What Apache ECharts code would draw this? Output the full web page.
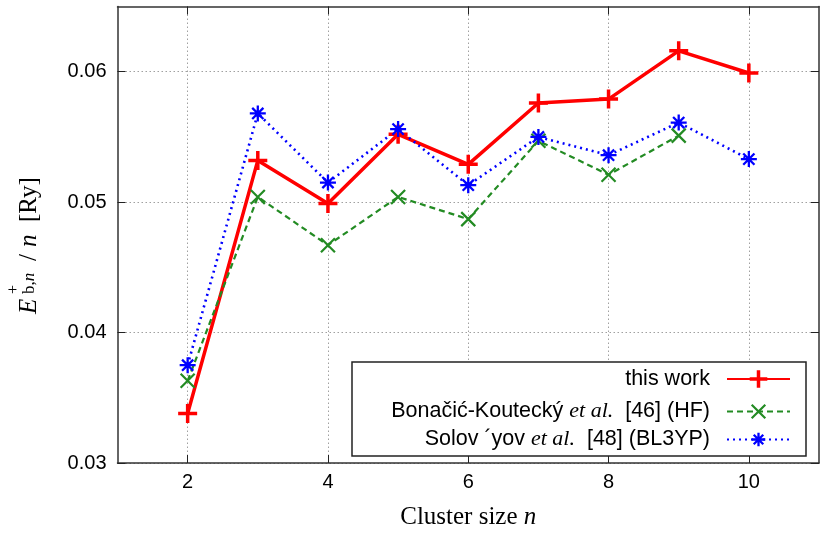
<!DOCTYPE html>
<html><head><meta charset="utf-8">
<script src="https://cdn.jsdelivr.net/npm/echarts@6/dist/echarts.min.js"></script>
<style>html,body{margin:0;padding:0;background:#fff}#c{width:831px;height:536px}</style>
</head><body><div id="c"></div>
<script>
const clusterSizes = [2, 3, 4, 5, 6, 7, 8, 9, 10];
const thisWork = [0.0338, 0.0532, 0.0499, 0.0552, 0.0529, 0.0576, 0.0579, 0.0616, 0.0599];
const hfSizes = [2, 3, 4, 5, 6, 7, 8, 9];
const hfValues = [0.0363, 0.0504, 0.0467, 0.0504, 0.0487, 0.0547, 0.0521, 0.0551];
const bl3ypValues = [0.0375, 0.0568, 0.0515, 0.0556, 0.0513, 0.0550, 0.0536, 0.0561, 0.0533];
const xTicks = [2, 4, 6, 8, 10];
const yTicks = [0.03, 0.04, 0.05, 0.06];
const seriesNames = ['this work', 'Bonačić-Koutecký et al. [46] (HF)', 'Solov´yov et al. [48] (BL3YP)'];
const legendLabels = {
  'this work': '{s|this work}',
  'Bonačić-Koutecký et al. [46] (HF)': '{s|Bonačić-Koutecký }{i|et al.}{s|  [46] (HF)}',
  'Solov´yov et al. [48] (BL3YP)': '{s|Solov ´yov }{i|et al.}{s|  [48] (BL3YP)}'
};

const SANS = '"Liberation Sans", Arial, sans-serif';
const SERIF = '"Liberation Serif", "Times New Roman", serif';
const plusSym = 'path://M0,-10 L0,10 M-10,0 L10,0';
const crossSym = 'path://M-10,-10 L10,10 M-10,10 L10,-10';
const starSym = 'path://M0,-10 L0,10 M-10,0 L10,0 M-7,-7 L7,7 M-7,7 L7,-7';

const legendRich = {
  s: { fontFamily: SANS, fontSize: 21.5, color: '#000' },
  i: { fontFamily: SERIF, fontStyle: 'italic', fontSize: 22, color: '#000' }
};
function makeLegend(name, centerY, itemHeight, bw) {
  return {
    data: [name], orient: 'vertical', align: 'right', right: 40,
    top: centerY - itemHeight / 2, padding: 0, itemWidth: 63, itemHeight: itemHeight,
    selectedMode: false, z: 6,
    itemStyle: { borderWidth: bw },
    formatter: n => legendLabels[n],
    textStyle: { padding: [0, 12, 0, 0], lineHeight: itemHeight, rich: legendRich }
  };
}

const axisLineStyle = { show: true, lineStyle: { color: '#333', width: 1.5 } };
const tickStyle = { show: true, inside: true, length: 8, lineStyle: { color: '#222', width: 1 } };

const chart = echarts.init(document.getElementById('c'), null, { renderer: 'canvas' });
chart.setOption({
  animation: false,
  backgroundColor: '#fff',
  grid: { left: 117.5, right: 12, top: 6.5, bottom: 73, containLabel: false, outerBoundsMode: 'none' },
  xAxis: [{
    type: 'value', position: 'bottom', min: 1, max: 11, interval: 1,
    axisLine: axisLineStyle,
    axisTick: Object.assign({ customValues: xTicks }, tickStyle),
    axisLabel: { customValues: xTicks, margin: 9, fontFamily: SANS, fontSize: 20, color: '#000' },
    splitLine: { show: true, lineStyle: { color: '#a0a0a0', width: 1, type: [1.5, 2.5] } },
    name: '{r|Cluster size }{i|n}', nameLocation: 'middle', nameGap: 42,
    nameTextStyle: { rich: {
      r: { fontFamily: SERIF, fontSize: 25, color: '#000' },
      i: { fontFamily: SERIF, fontStyle: 'italic', fontSize: 25, color: '#000' }
    } }
  }, {
    type: 'value', position: 'top', min: 1, max: 11, interval: 1,
    axisLine: axisLineStyle,
    axisTick: Object.assign({ customValues: xTicks }, tickStyle),
    axisLabel: { show: false }, splitLine: { show: false }
  }],
  yAxis: [{
    type: 'value', position: 'left', min: 0.03, max: 0.065, interval: 0.01,
    axisLine: axisLineStyle,
    axisTick: Object.assign({ customValues: yTicks }, tickStyle),
    axisLabel: { customValues: yTicks, margin: 11, fontFamily: SANS, fontSize: 20, color: '#000',
      formatter: v => v.toFixed(2) },
    splitLine: { show: true, lineStyle: { color: '#a0a0a0', width: 1, type: [1.5, 2.5] } }
  }, {
    type: 'value', position: 'right', min: 0.03, max: 0.065, interval: 0.01,
    axisLine: axisLineStyle,
    axisTick: Object.assign({ customValues: yTicks }, tickStyle),
    axisLabel: { show: false }, splitLine: { show: false }
  }],
  legend: [
    makeLegend(seriesNames[0], 379, 22, 3.5),
    makeLegend(seriesNames[1], 409, 17, 2.2),
    makeLegend(seriesNames[2], 437, 17, 2.3)
  ],
  graphic: [
    { type: 'rect', z: 3, shape: { x: 352, y: 362, width: 454, height: 94 },
      style: { fill: '#fff', stroke: '#222', lineWidth: 1.5 } },
    { type: 'group', x: 29, y: 314, rotation: Math.PI / 2, children: [
      { type: 'text', x: 0, y: 0, style: { text: 'E', font: 'italic 25px ' + SERIF, fill: '#000', verticalAlign: 'middle', align: 'left' } },
      { type: 'text', x: 20, y: -15, style: { text: '+', font: '16px ' + SERIF, fill: '#000', verticalAlign: 'middle', align: 'left' } },
      { type: 'text', x: 20, y: 1, style: { text: '{r|b,}{i|n}', verticalAlign: 'middle', align: 'left',
        rich: { r: { fontFamily: SERIF, fontSize: 17, fill: '#000' }, i: { fontFamily: SERIF, fontStyle: 'italic', fontSize: 17, fill: '#000' } } } },
      { type: 'text', x: 53, y: 0, style: { text: '/', font: '25px ' + SERIF, fill: '#000', verticalAlign: 'middle', align: 'left' } },
      { type: 'text', x: 67, y: 0, style: { text: 'n', font: 'italic 25px ' + SERIF, fill: '#000', verticalAlign: 'middle', align: 'left' } },
      { type: 'text', x: 92, y: 0, style: { text: '[Ry]', font: '25px ' + SERIF, fill: '#000', verticalAlign: 'middle', align: 'left' } }
    ] }
  ],
  series: [{
    type: 'line', name: seriesNames[0],
    data: clusterSizes.map((n, i) => [n, thisWork[i]]),
    symbol: plusSym, symbolSize: 19,
    lineStyle: { color: '#ff0000', width: 3.5 },
    itemStyle: { color: '#ff0000', borderColor: '#ff0000', borderWidth: 3.5 },
    emphasis: { disabled: true }
  }, {
    type: 'line', name: seriesNames[1],
    data: hfSizes.map((n, i) => [n, hfValues[i]]),
    symbol: crossSym, symbolSize: 14,
    lineStyle: { color: '#238b23', width: 2.2, type: [6, 4] },
    itemStyle: { color: '#238b23', borderColor: '#238b23', borderWidth: 2.2 },
    emphasis: { disabled: true }
  }, {
    type: 'line', name: seriesNames[2],
    data: clusterSizes.map((n, i) => [n, bl3ypValues[i]]),
    symbol: starSym, symbolSize: 16,
    lineStyle: { color: '#0000ff', width: 2.6, type: [2, 4] },
    itemStyle: { color: '#0000ff', borderColor: '#0000ff', borderWidth: 2.3 },
    emphasis: { disabled: true }
  }]
});
</script></body></html>
